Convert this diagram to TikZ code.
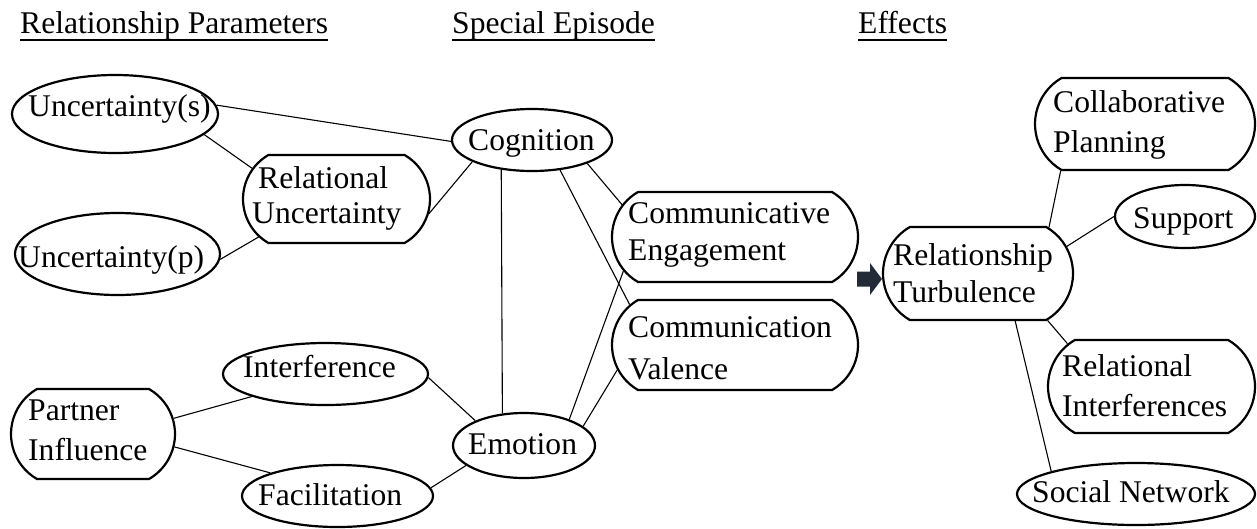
\documentclass[tikz,border=0pt]{standalone}
\usepackage{fontspec}
\setmainfont{Liberation Serif}
\usetikzlibrary{shapes.geometric,shapes.misc}
\definecolor{arrowc}{RGB}{35,43,56}
\begin{document}
\begin{tikzpicture}[x=1pt,y=-1pt,
  ell/.style={ellipse,draw,line width=2.2pt,inner sep=0pt},
  rbox/.style={rounded rectangle,rounded rectangle arc length=120,draw,line width=2.2pt,inner sep=0pt},
  txt/.style={anchor=base west,inner sep=0pt,font=\fontsize{31.6}{38}\selectfont},
  con/.style={line width=1.1pt},
  uline/.style={line width=1.9pt}
]
\useasboundingbox (0,0) rectangle (1257,528);

% headers
\node[txt] (h1) at (20,33) {Relationship Parameters};
\node[txt] (h2) at (452,33) {Special Episode};
\node[txt] (h3) at (858,33) {Effects};
\draw[uline] ([yshift=-7pt]h1.base west) -- ([yshift=-7pt]h1.base east);
\draw[uline] ([yshift=-7pt]h2.base west) -- ([yshift=-7pt]h2.base east);
\draw[uline] ([yshift=-7pt]h3.base west) -- ([yshift=-7pt]h3.base east);

% shapes
\node[ell,minimum width=206,minimum height=78] (us) at (115,114) {};
\node[ell,minimum width=205,minimum height=82] (up) at (117.5,254) {};
\node[rbox,minimum width=187,minimum height=88] (ru) at (336.5,199) {};
\node[ell,minimum width=160,minimum height=62] (cog) at (532,140) {};
\node[ell,minimum width=142,minimum height=65] (emo) at (524,445.5) {};
\node[rbox,minimum width=246,minimum height=90] (ce) at (735,237) {};
\node[rbox,minimum width=246,minimum height=90] (cv) at (735,345) {};
\node[rbox,minimum width=190,minimum height=93] (rt) at (978,273.5) {};
\node[rbox,minimum width=220,minimum height=92] (cp) at (1145,124) {};
\node[ell,minimum width=140,minimum height=63] (sup) at (1185,216.5) {};
\node[rbox,minimum width=207,minimum height=93] (ri) at (1151.5,386.5) {};
\node[ell,minimum width=238,minimum height=62] (sn) at (1136,494) {};
\node[ell,minimum width=205,minimum height=62] (int) at (325.5,374) {};
\node[ell,minimum width=191,minimum height=62] (fac) at (337.5,496) {};
\node[rbox,minimum width=164,minimum height=90] (pi) at (93,434) {};

% texts
\node[txt] (tus) at (28,116) {Uncertainty(s)};
\node[txt] (tup) at (18,267) {Uncertainty(p)};
\node[txt] (tru1) at (258,188) {Relational};
\node[txt] (tru2) at (252,223) {Uncertainty};
\node[txt] (tcog) at (468,150) {Cognition};
\node[txt] (temo) at (468,454) {Emotion};
\node[txt] (tce1) at (628,223) {Communicative};
\node[txt] (tce2) at (628,260) {Engagement};
\node[txt] (tcv1) at (628,337) {Communication};
\node[txt] (tcv2) at (628,379) {Valence};
\node[txt] (trt1) at (893,265) {Relationship};
\node[txt] (trt2) at (893,302) {Turbulence};
\node[txt] (tcp1) at (1053,112) {Collaborative};
\node[txt] (tcp2) at (1053,152) {Planning};
\node[txt] (tsup) at (1133,228) {Support};
\node[txt] (tri1) at (1062,376) {Relational};
\node[txt] (tri2) at (1062,416) {Interferences};
\node[txt] (tsn) at (1032,502) {Social Network};
\node[txt] (tint) at (243,377) {Interference};
\node[txt] (tfac) at (258,505) {Facilitation};
\node[txt] (tpi1) at (28,420) {Partner};
\node[txt] (tpi2) at (28,460) {Influence};

% block arrow
\coordinate (arr) at (857,279);
\fill[arrowc] (arr) ++(0,-7.5) -- ++(13,0) -- ++(0,-8.5) -- ++(12,16) -- ++(-12,16) -- ++(0,-8.5) -- ++(-13,0) -- cycle;

% connectors
\draw[con] (us.5) -- (cog.181.5);
\draw[con] (us.-13.4) -- (ru.160);
\draw[con] (up.-3.3) -- (ru.206.7);
\draw[con] (ru.-9.7) -- (cog.200.4);
\draw[con] (cog.-23.2) -- (ce.164.7);
\draw[con] (cog.-47) -- (cv.159.4);
\draw[con] (cog.224.9) -- (emo.124.1);
\draw[con] (emo.30.9) -- (ce.197.8);
\draw[con] (emo.18.3) -- (cv.192.7);
\draw[con] (int.-2.2) -- (emo.153.9);
\draw[con] (fac.5.4) -- (emo.199.2);
\draw[con] (pi.11.7) -- (int.197.4);
\draw[con] (pi.-9.7) -- (fac.161.2);
\draw[con] (rt.33) -- (cp.209.5);
\draw[con] (rt.17.6) -- (sup.180.4);
\draw[con] (rt.-34) -- (ri.153.8);
\draw[con] (rt.-52.8) -- (sn.165.2);
\end{tikzpicture}
\end{document}
